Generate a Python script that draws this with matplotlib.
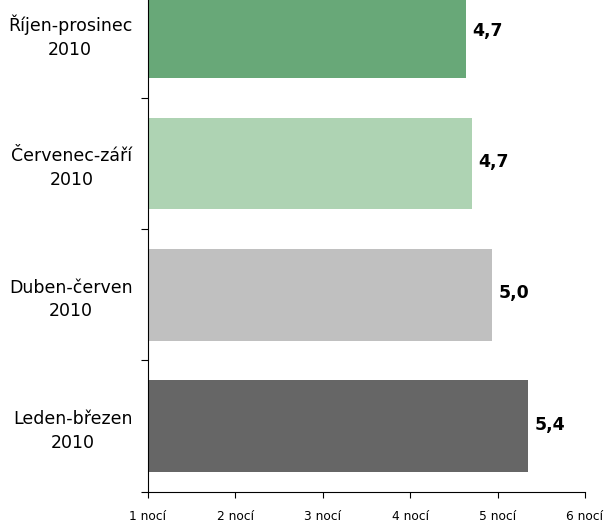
import matplotlib
matplotlib.use("Agg")
import matplotlib.pyplot as plt

# categories listed bottom to top
categories = ["Leden-březen\n2010", "Duben-červen\n2010", "Červenec-září\n2010", "Říjen-prosinec\n2010"]
values = [5.35, 4.94, 4.71, 4.64]
value_labels = ["5,4", "5,0", "4,7", "4,7"]
bar_colors = ["#666666", "#c0c0c0", "#aed3b3", "#68a878"]
x_ticks = [1, 2, 3, 4, 5, 6]
x_tick_labels = ["1 nocí", "2 nocí", "3 nocí", "4 nocí", "5 nocí", "6 nocí"]

W, H = 607, 522
fig = plt.figure(figsize=(W / 100, H / 100), dpi=100)
# axes reaches above the figure top, the top bar is cut like in the source
left, right = 147.7 / W, 585.0 / W
bottom, top = (H - 491.8) / H, (H + 33.5) / H
ax = fig.add_axes([left, bottom, right - left, top - bottom])

ypos = range(len(categories))
ax.barh(ypos, [v - 1 for v in values], left=1, height=0.70, color=bar_colors, zorder=2)

for y, v, lab in zip(ypos, values, value_labels):
    ax.text(v + 0.07, y + 0.01, lab, va="center", ha="left", fontsize=12.5, fontweight="bold", color="black")

ax.set_xlim(1, 6)
ax.set_ylim(-0.5, len(categories) - 0.5)
ax.set_xticks(x_ticks)
ax.set_xticklabels(x_tick_labels, fontsize=8.8)
ax.set_yticks(list(ypos))
ax.set_yticklabels(categories, fontsize=12.5, multialignment="center", linespacing=1.4)
ax.tick_params(axis="y", length=0, pad=11)
ax.set_yticks([i - 0.5 for i in range(len(categories) + 1)], minor=True)
ax.tick_params(axis="y", which="minor", length=5, width=0.8, direction="out")
ax.tick_params(axis="x", length=4, width=0.8, direction="out", pad=9)

for s in ["top", "right"]:
    ax.spines[s].set_visible(False)
ax.spines["left"].set_linewidth(0.8)
ax.spines["bottom"].set_linewidth(0.8)

fig.savefig("out.png", dpi=100)
